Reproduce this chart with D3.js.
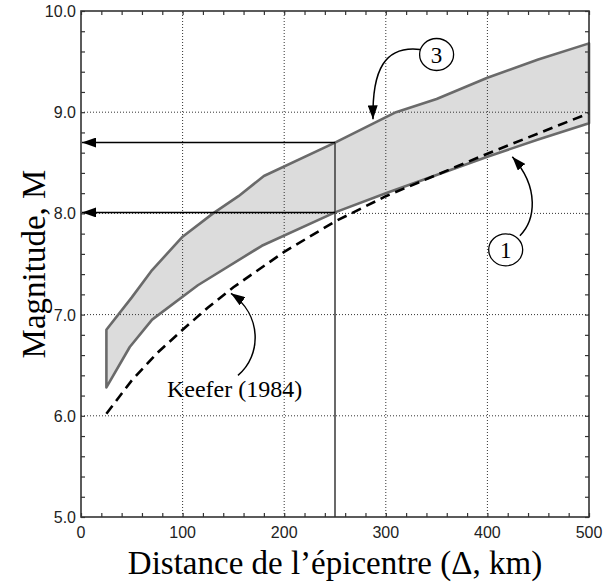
<!DOCTYPE html>
<html>
<head>
<meta charset="utf-8">
<script src="https://cdn.jsdelivr.net/npm/d3@7"></script>
<style>
body { margin: 0; background: #fff; }
</style>
</head>
<body>
<script>
// curve (3) : upper edge of the band
var upperDist = [25, 50, 70, 100, 130, 155, 180, 250, 310, 350, 400, 450, 500];
var upperMag  = [6.85, 7.17, 7.44, 7.77, 8.0, 8.17, 8.37, 8.70, 9.0, 9.13, 9.34, 9.52, 9.68];
// curve (1) : lower edge of the band
var lowerDist = [25, 48, 70, 115, 178, 250, 300, 350, 400, 450, 500];
var lowerMag  = [6.28, 6.68, 6.95, 7.29, 7.68, 8.01, 8.20, 8.38, 8.56, 8.73, 8.89];
// Keefer (1984)
var keeferDist = [25, 50, 75, 100, 125, 150, 200, 250, 300, 350, 400, 450, 500];
var keeferMag  = [6.02, 6.35, 6.62, 6.85, 7.07, 7.27, 7.62, 7.92, 8.17, 8.38, 8.59, 8.79, 8.99];

var xTicks = [0, 100, 200, 300, 400, 500];
var yTicks = [5, 6, 7, 8, 9, 10];
var readDist = 250;          // distance read on the chart
var readMag = [8.70, 8.01];  // magnitudes read at that distance

//Width and height
var w = 611;
var h = 583;
var margin = {top: 11, right: 22, bottom: 66, left: 81};

var x = d3.scaleLinear().domain([0, 500]).range([margin.left, w - margin.right]);
var y = d3.scaleLinear().domain([5, 10]).range([h - margin.bottom, margin.top]);

var svg = d3.select("body")
            .append("svg")
            .attr("width", w)
            .attr("height", h);

var defs = svg.append("defs");
defs.append("marker")
    .attr("id", "head")
    .attr("markerUnits", "userSpaceOnUse")
    .attr("viewBox", "0 0 14 10")
    .attr("refX", 14).attr("refY", 5)
    .attr("markerWidth", 14).attr("markerHeight", 10)
    .attr("orient", "auto")
    .append("path")
    .attr("d", "M0,0 L14,5 L0,10 Z")
    .attr("fill", "#000");

function pts(ds, ms) {
    return ds.map(function(d, i) { return [x(d), y(ms[i])]; });
}
var line = d3.line();

//band between curves (1) and (3)
var band = pts(upperDist, upperMag).concat(pts(lowerDist, lowerMag).reverse());
svg.append("path")
    .attr("d", line(band) + "Z")
    .attr("fill", "#dcdcdc")
    .attr("stroke", "none");

//dotted grid
svg.selectAll(".gx")
    .data(xTicks.slice(1, -1))
    .enter()
    .append("line")
    .attr("x1", function(d) { return x(d); })
    .attr("x2", function(d) { return x(d); })
    .attr("y1", y(5)).attr("y2", y(10))
    .attr("stroke", "#333").attr("stroke-width", 1)
    .attr("stroke-dasharray", "1,2");

svg.selectAll(".gy")
    .data(yTicks.slice(1, -1))
    .enter()
    .append("line")
    .attr("y1", function(d) { return y(d); })
    .attr("y2", function(d) { return y(d); })
    .attr("x1", x(0)).attr("x2", x(500))
    .attr("stroke", "#333").attr("stroke-width", 1)
    .attr("stroke-dasharray", "1,2");

//minor ticks on all four sides
var minorX = d3.range(0, 501, 20);
var minorY = d3.range(5, 10.001, 0.2);
function noLabel(g) { g.selectAll("text").remove(); g.select(".domain").remove(); }
svg.append("g").attr("transform", "translate(0," + y(5) + ")")
    .call(d3.axisBottom(x).tickValues(minorX).tickSize(-4)).call(noLabel);
svg.append("g").attr("transform", "translate(0," + y(10) + ")")
    .call(d3.axisTop(x).tickValues(minorX).tickSize(-4)).call(noLabel);
svg.append("g").attr("transform", "translate(" + x(0) + ",0)")
    .call(d3.axisLeft(y).tickValues(minorY).tickSize(-4)).call(noLabel);
svg.append("g").attr("transform", "translate(" + x(500) + ",0)")
    .call(d3.axisRight(y).tickValues(minorY).tickSize(-4)).call(noLabel);
svg.selectAll(".tick line").attr("stroke", "#333").attr("stroke-width", 1.2);

//band edges
svg.append("path")
    .attr("d", line(band) + "Z")
    .attr("fill", "none")
    .attr("stroke", "#6a6a6a")
    .attr("stroke-width", 2.6)
    .attr("stroke-linejoin", "round");

//Keefer (1984)
svg.append("path")
    .attr("d", line(pts(keeferDist, keeferMag)))
    .attr("fill", "none")
    .attr("stroke", "#000")
    .attr("stroke-width", 2.6)
    .attr("stroke-dasharray", "10,6");

//reading lines at 250 km
svg.append("line")
    .attr("x1", x(readDist)).attr("x2", x(readDist))
    .attr("y1", y(5)).attr("y2", y(readMag[0]))
    .attr("stroke", "#444").attr("stroke-width", 1.6);

svg.selectAll(".read")
    .data(readMag)
    .enter()
    .append("line")
    .attr("x1", x(readDist)).attr("x2", x(0) + 1)
    .attr("y1", function(d) { return y(d); })
    .attr("y2", function(d) { return y(d); })
    .attr("stroke", "#000").attr("stroke-width", 1.5)
    .attr("marker-end", "url(#head)");

//plot frame
svg.append("rect")
    .attr("x", x(0)).attr("y", y(10))
    .attr("width", x(500) - x(0))
    .attr("height", y(5) - y(10))
    .attr("fill", "none")
    .attr("stroke", "#333")
    .attr("stroke-width", 1.6);

//tick labels
svg.selectAll(".xl")
    .data(xTicks)
    .enter()
    .append("text")
    .attr("x", function(d) { return x(d); })
    .attr("y", y(5) + 21)
    .attr("text-anchor", "middle")
    .style("font-family", "Liberation Sans, Arial, sans-serif")
    .style("font-size", "16px")
    .style("fill", "#222")
    .text(function(d) { return d; });

svg.selectAll(".yl")
    .data(yTicks)
    .enter()
    .append("text")
    .attr("x", x(0) - 5)
    .attr("y", function(d) { return y(d) + 6; })
    .attr("text-anchor", "end")
    .style("font-family", "Liberation Sans, Arial, sans-serif")
    .style("font-size", "16px")
    .style("fill", "#222")
    .text(function(d) { return d.toFixed(1); });

//axis titles
svg.append("text")
    .attr("x", (x(0) + x(500)) / 2)
    .attr("y", 574)
    .attr("text-anchor", "middle")
    .style("font-family", "Liberation Serif, Times New Roman, serif")
    .style("font-size", "33px")
    .text("Distance de l\u2019épicentre (\u0394, km)");

svg.append("text")
    .attr("transform", "translate(45," + ((y(5) + y(10)) / 2) + ") rotate(-90)")
    .attr("text-anchor", "middle")
    .style("font-family", "Liberation Serif, Times New Roman, serif")
    .style("font-size", "33px")
    .text("Magnitude, M");

//annotations
function curve(a, b, c, d) {
    var p = [a, b, c, d].map(function(q) { return [x(q[0]), y(q[1])]; });
    return "M" + p[0] + "C" + p[1] + " " + p[2] + " " + p[3];
}
var ann = svg.append("g").attr("fill", "none").attr("stroke", "#000").attr("stroke-width", 1.5);
ann.append("path")
    .attr("d", curve([333.7, 9.62], [299, 9.66], [286.4, 9.42], [287.4, 8.93]))
    .attr("marker-end", "url(#head)");
ann.append("path")
    .attr("d", curve([432, 7.78], [446.9, 7.93], [452, 8.25], [424.5, 8.56]))
    .attr("marker-end", "url(#head)");
ann.append("path")
    .attr("d", curve([154.5, 6.40], [178.1, 6.60], [178.1, 7.0], [147.6, 7.21]))
    .attr("marker-end", "url(#head)");

var labels = [
    {d: 350, m: 9.57, t: "3"},
    {d: 418, m: 7.64, t: "1"}
];
var lab = svg.selectAll(".lab")
    .data(labels)
    .enter()
    .append("g")
    .attr("transform", function(d) { return "translate(" + x(d.d) + "," + y(d.m) + ")"; });
lab.append("ellipse")
    .attr("rx", 17).attr("ry", 16)
    .attr("fill", "#fff")
    .attr("stroke", "#000")
    .attr("stroke-width", 1.3);
lab.append("text")
    .attr("y", 8)
    .attr("text-anchor", "middle")
    .style("font-family", "Liberation Serif, Times New Roman, serif")
    .style("font-size", "23px")
    .text(function(d) { return d.t; });

svg.append("text")
    .attr("x", x(84.6))
    .attr("y", y(6.19))
    .style("font-family", "Liberation Serif, Times New Roman, serif")
    .style("font-size", "24px")
    .text("Keefer (1984)");
</script>
</body>
</html>
